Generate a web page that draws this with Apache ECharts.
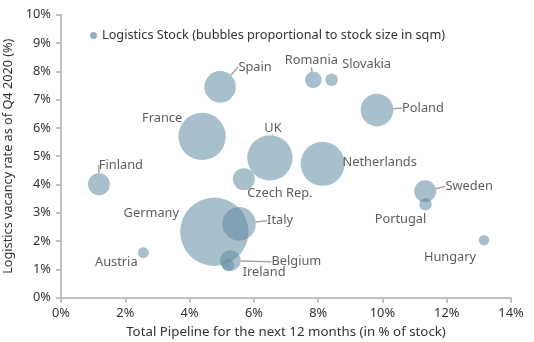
<!DOCTYPE html>
<html>
<head>
<meta charset="utf-8">
<script src="https://cdn.jsdelivr.net/npm/echarts@6/dist/echarts.min.js"></script>
<style>
html,body{margin:0;padding:0;background:#fff;}
#chart{width:534px;height:342px;}
</style>
</head>
<body>
<div id="chart"></div>
<script>
// Data
const countries = ['Spain','Romania','Slovakia','Poland','France','UK','Netherlands','Czech Rep.','Finland','Germany','Italy','Austria','Belgium','Ireland','Sweden','Portugal','Hungary'];
const pipeline  = [4.95, 7.85, 8.42, 9.83, 4.39, 6.50, 8.14, 5.69, 1.18, 4.77, 5.54, 2.56, 5.27, 5.20, 11.33, 11.34, 13.16];
const vacancy   = [7.45, 7.70, 7.70, 6.63, 5.70, 4.94, 4.73, 4.19, 4.01, 2.33, 2.61, 1.59, 1.31, 1.15, 3.76, 3.30, 2.03];
const stock     = [19.2, 5.3, 3.0, 20.5, 43.2, 39.6, 37.2, 9.3, 9.3, 90.0, 21.7, 2.3, 8.2, 2.8, 9.3, 3.0, 2.1];
const xTicks = [0, 2, 4, 6, 8, 10, 12, 14];
const yTicks = [0, 1, 2, 3, 4, 5, 6, 7, 8, 9, 10];

// Label placement (styling only)
const labelPlacement = {
  'Spain':       {dx: 35, dy: -20, line: true},
  'Romania':     {dx: -2, dy: -19, line: true},
  'Slovakia':    {dx: 35, dy: -15, line: false},
  'Poland':      {dx: 46, dy: -2, line: true},
  'France':      {dx: -40, dy: -18, line: false},
  'UK':          {dx: 3, dy: -30, line: true},
  'Netherlands': {dx: 57, dy: -1, line: false},
  'Czech Rep.':  {dx: 36, dy: 14, line: false},
  'Finland':     {dx: 22, dy: -19, line: true},
  'Germany':     {dx: -63, dy: -18, line: false},
  'Italy':       {dx: 41, dy: -3, line: true},
  'Austria':     {dx: -27, dy: 10, line: false},
  'Belgium':     {dx: 66, dy: 1, line: true},
  'Ireland':     {dx: 36, dy: 7, line: false},
  'Sweden':      {dx: 44, dy: -5, line: true},
  'Portugal':    {dx: -25, dy: 15, line: false},
  'Hungary':     {dx: -34, dy: 17, line: false}
};

const FONT = 'Noto Sans';
const TXT = '#333333';
const AXIS = '#bfbfbf';

const data = countries.map((c, i) => ({
  name: c,
  value: [pipeline[i], vacancy[i], stock[i]],
  labelLine: {show: labelPlacement[c].line}
}));

const chart = echarts.init(document.getElementById('chart'), null, {renderer: 'canvas'});
chart.setOption({
  animation: false,
  textStyle: {fontFamily: FONT},
  grid: {left: 61, right: 23, top: 14.7, bottom: 44.3, containLabel: false, outerBoundsMode: 'none'},
  legend: {
    left: 85, top: 24,
    icon: 'circle', itemWidth: 7, itemHeight: 7,
    textStyle: {color: TXT, fontSize: 12.7, fontFamily: FONT},
    itemStyle: {color: 'rgb(143,174,190)', opacity: 1},
    data: ['Logistics Stock (bubbles proportional to stock size in sqm)']
  },
  xAxis: {
    type: 'value', min: 0, max: 14, interval: 2,
    name: 'Total Pipeline for the next 12 months (in % of stock)',
    nameLocation: 'middle', nameGap: 28,
    nameTextStyle: {color: TXT, fontSize: 13.3, fontFamily: FONT},
    axisLine: {show: true, lineStyle: {color: AXIS, width: 2}},
    axisTick: {show: true, length: 5, lineStyle: {color: AXIS, width: 2}},
    axisLabel: {color: TXT, fontSize: 12.8, margin: 9, fontFamily: FONT,
      formatter: v => xTicks.includes(v) ? v + '%' : ''},
    splitLine: {show: false}
  },
  yAxis: {
    type: 'value', min: 0, max: 10, interval: 1,
    name: 'Logistics vacancy rate as of Q4 2020 (%)',
    nameLocation: 'middle', nameGap: 40, nameRotate: 90,
    nameTextStyle: {color: TXT, fontSize: 12.7, fontFamily: FONT},
    axisLine: {show: true, lineStyle: {color: AXIS, width: 2}},
    axisTick: {show: true, length: 5, lineStyle: {color: AXIS, width: 2}},
    axisLabel: {color: TXT, fontSize: 12.8, margin: 10, fontFamily: FONT,
      formatter: v => yTicks.includes(v) ? v + '%' : ''},
    splitLine: {show: false}
  },
  series: [{
    name: 'Logistics Stock (bubbles proportional to stock size in sqm)',
    type: 'scatter',
    data: data,
    symbolSize: v => 7.21 * Math.sqrt(v[2]),
    itemStyle: {color: 'rgba(94,137,160,0.68)'},
    emphasis: {disabled: true},
    label: {
      show: true, position: 'inside', formatter: p => p.name,
      color: TXT, fontSize: 12.8, fontFamily: FONT
    },
    labelLine: {lineStyle: {color: '#a6a6a6', width: 1.5}},
    labelLayout: p => {
      const lp = labelPlacement[countries[p.dataIndex]];
      return {dx: lp.dx, dy: lp.dy};
    }
  }]
});
</script>
</body>
</html>
